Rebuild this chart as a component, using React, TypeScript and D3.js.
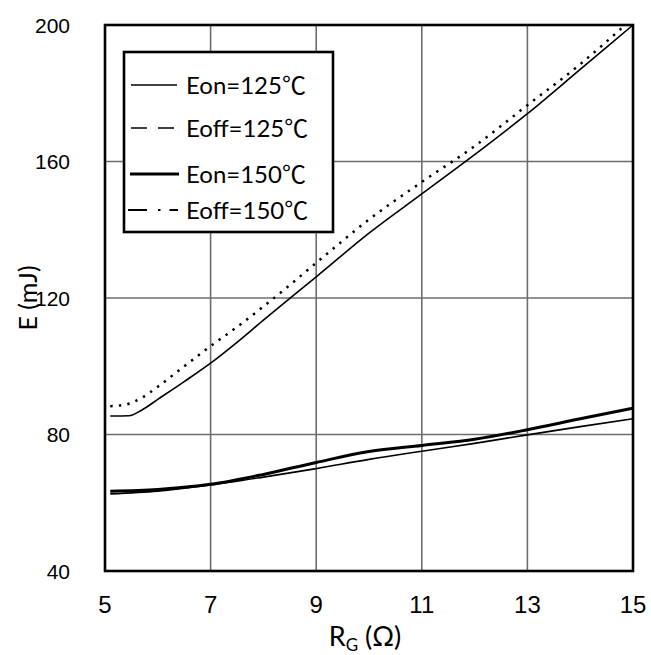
import React from "react";
import * as d3 from "d3";

// Switching energy versus gate resistance
const xTicks = [5, 7, 9, 11, 13, 15];
const yTicks = [40, 80, 120, 160, 200];

const eon125R = [5.1, 5.45, 5.7, 6, 6.5, 7, 7.5, 8, 8.5, 9, 10, 11, 12, 13, 14, 15];
const eon125E = [85.4, 85.5, 87.2, 90.3, 95.5, 100.9, 107, 113.5, 119.9, 126.2, 139, 150.5, 162, 174, 187, 200];

const eoffUpperR = [5.1, 5.4, 5.7, 6, 6.5, 7, 7.5, 8, 8.5, 9, 10, 11, 12, 13, 14, 14.85];
const eoffUpperE = [88.3, 88.8, 90.8, 94, 100, 105.9, 111.5, 117.5, 123.8, 130.3, 143, 154, 164.5, 176.5, 188.5, 200];

const eon150R = [5.1, 6, 7, 8, 9, 10, 11, 12, 13, 14, 15];
const eon150E = [63.4, 63.9, 65.4, 68.3, 71.8, 75.0, 76.8, 78.6, 81.4, 84.6, 87.7];

const lowerThinR = [5.1, 6, 7, 8, 9, 10, 11, 12, 13, 14, 15];
const lowerThinE = [62.6, 63.4, 65.2, 67.5, 70.0, 72.7, 75.1, 77.4, 79.9, 82.3, 84.6];

const legendLabels = ["Eon=125℃", "Eoff=125℃", "Eon=150℃", "Eoff=150℃"];

const W = 651;
const H = 655;
const M = { left: 105, right: 633, top: 25, bottom: 571 };

const x = d3.scaleLinear().domain([5, 15]).range([M.left, M.right]);
const y = d3.scaleLinear().domain([40, 200]).range([M.bottom, M.top]);

const line = d3
  .line<[number, number]>()
  .x((d) => x(d[0]))
  .y((d) => y(d[1]))
  .curve(d3.curveMonotoneX);

const zip = (a: number[], b: number[]) => a.map((v, i) => [v, b[i]] as [number, number]);

const uiFont = "Lato, 'Noto Sans CJK SC', sans-serif";
const tickFont = "'Liberation Sans', Arial, sans-serif";

export default function App() {
  const legendX = 124;
  const legendY = 52;
  const legendW = 209;
  const legendH = 180;
  const rowY = [85, 128, 174, 210];
  const sx1 = 131;
  const sx2 = 177;

  return (
    <svg
      width={W}
      height={H}
      style={{ position: "absolute", left: 0, top: 0, background: "#fff" }}
    >
      <rect x={0} y={0} width={W} height={H} fill="#fff" />

      {/* grid */}
      {xTicks.slice(1, -1).map((t) => (
        <line key={"gx" + t} x1={x(t)} x2={x(t)} y1={M.top} y2={M.bottom} stroke="#6e6e6e" strokeWidth={1.6} />
      ))}
      {yTicks.slice(1, -1).map((t) => (
        <line key={"gy" + t} x1={M.left} x2={M.right} y1={y(t)} y2={y(t)} stroke="#6e6e6e" strokeWidth={1.6} />
      ))}

      {/* curves */}
      <path d={line(zip(eon125R, eon125E)) || ""} fill="none" stroke="#000" strokeWidth={1.6} />
      <path
        d={line(zip(eoffUpperR, eoffUpperE)) || ""}
        fill="none"
        stroke="#000"
        strokeWidth={2.5}
        strokeDasharray="2.4 6.2"
      />
      <path d={line(zip(lowerThinR, lowerThinE)) || ""} fill="none" stroke="#000" strokeWidth={1.6} />
      <path d={line(zip(eon150R, eon150E)) || ""} fill="none" stroke="#000" strokeWidth={3} />

      {/* frame */}
      <rect
        x={M.left}
        y={M.top}
        width={M.right - M.left}
        height={M.bottom - M.top}
        fill="none"
        stroke="#000"
        strokeWidth={2.6}
      />

      {/* legend */}
      <rect x={legendX} y={legendY} width={legendW} height={legendH} fill="#fff" stroke="#000" strokeWidth={2.6} />
      <line x1={sx1} x2={sx2} y1={rowY[0]} y2={rowY[0]} stroke="#000" strokeWidth={1.6} />
      <line x1={sx1} x2={sx2} y1={rowY[1]} y2={rowY[1]} stroke="#000" strokeWidth={1.6} strokeDasharray="16 11" />
      <line x1={sx1 - 1} x2={sx2 + 2} y1={rowY[2]} y2={rowY[2]} stroke="#000" strokeWidth={3} />
      <line x1={sx1 - 3} x2={sx2 + 1} y1={rowY[3]} y2={rowY[3]} stroke="#000" strokeWidth={2} strokeDasharray="19 11 2.5 9 12" />
      {legendLabels.map((t, i) => (
        <text key={t} x={186} y={rowY[i] + 9} fontFamily={uiFont} fontSize={24} fill="#000">
          {t}
        </text>
      ))}

      {/* tick labels */}
      {xTicks.map((t) => (
        <text key={"tx" + t} x={x(t)} y={613} textAnchor="middle" fontFamily={tickFont} fontSize={24} fill="#000">
          {t}
        </text>
      ))}
      {yTicks.map((t) => (
        <text key={"ty" + t} x={70} y={y(t) + 7.5} textAnchor="end" fontFamily={tickFont} fontSize={21} fill="#000">
          {t}
        </text>
      ))}

      {/* axis titles */}
      <text
        transform={`translate(37, ${(M.top + M.bottom) / 2}) rotate(-90)`}
        textAnchor="middle"
        fontFamily={uiFont}
        fontSize={25}
        fill="#000"
      >
        E (mJ)
      </text>
      <text x={365} y={646} textAnchor="middle" fontFamily={uiFont} fontSize={27} fill="#000">
        R<tspan fontSize={17} dy={5}>G</tspan>
        <tspan dy={-5}> (Ω)</tspan>
      </text>
    </svg>
  );
}
